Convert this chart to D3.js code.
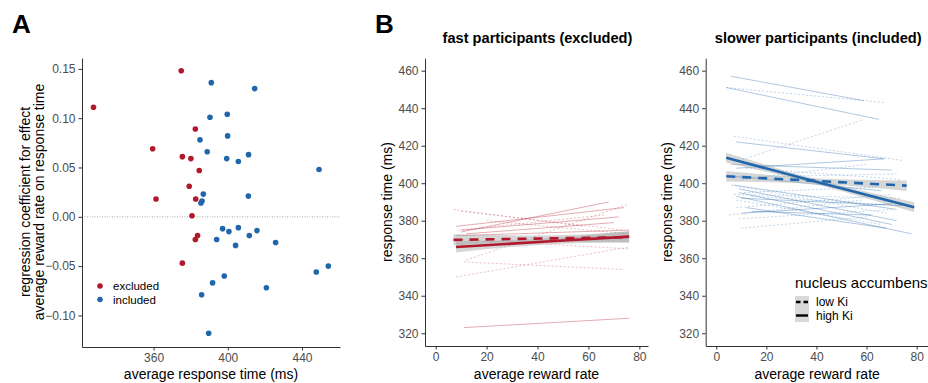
<!DOCTYPE html>
<html>
<head>
<meta charset="utf-8">
<title>Reward rate and response time</title>
<script src="https://cdn.jsdelivr.net/npm/d3@7"></script>
<style>
body { margin: 0; background: #fff; font-family: 'Liberation Sans', Arial, sans-serif; }
.tick text { fill: #4d4d4d; font-size: 12px; }
.axis path, .axis line { stroke: #333; }
.atitle { font-size: 14px; fill: #000; }
.ptitle { font-size: 14.6px; font-weight: bold; fill: #000; }
.letter { font-size: 26px; font-weight: bold; fill: #000; }
</style>
</head>
<body>
<script>
var red = "#b2182b", blue = "#2166ac";

// panel A: average RT vs. regression coefficient
var excludedRT   = [327.6, 374.9, 382.5, 359.5, 375.5, 380.1, 384.6, 379.2, 361.3, 382.7, 380.7, 383.7, 382.5, 375.5];
var excludedCoef = [0.111, 0.148, 0.089, 0.069, 0.061, 0.059, 0.047, 0.031, 0.018, 0.018, 0.001, -0.019, -0.023, -0.047];
var includedRT   = [391.1, 414.5, 390.4, 399.7, 399.9, 385.0, 388.9, 399.4, 411.2, 405.7, 449.2, 386.8, 386.1, 385.5, 411.1,
                    397.2, 400.6, 405.7, 415.7, 394.0, 411.6, 404.2, 425.8, 447.7, 454.2, 398.1, 391.8, 420.8, 385.9, 389.7];
var includedCoef = [0.136, 0.130, 0.101, 0.104, 0.082, 0.078, 0.066, 0.059, 0.063, 0.056, 0.048, 0.023, 0.016, 0.014, 0.021,
                    -0.012, -0.015, -0.011, -0.014, -0.023, -0.019, -0.029, -0.026, -0.056, -0.050, -0.060, -0.067, -0.072, -0.079, -0.118];
var ticksA_x = [360, 400, 440];
var ticksA_y = [-0.10, -0.05, 0.00, 0.05, 0.10, 0.15];

// panel B: per-participant fits [x1, y1, x2, y2, Ki group]
var fastLines = [
  [10, 374, 68, 390, "high"], [8, 377, 74, 387, "high"], [10, 375, 72, 382, "high"],
  [12, 373, 70, 379, "high"], [8, 372, 76, 375, "high"], [11, 323, 76, 328, "high"],
  [7, 386, 58, 377, "low"], [10, 385, 74, 375, "low"], [12, 359, 76, 389, "low"],
  [8, 350, 76, 366, "low"], [11, 358, 74, 354, "low"], [9, 370, 76, 365, "low"],
  [20, 380, 76, 373, "low"], [9, 375, 66, 383, "low"]
];
var slowLines = [
  [6, 457, 59, 444, "high"], [4, 451, 65, 434, "high"], [8, 422, 67, 413, "high"],
  [8, 408, 67, 413, "high"], [9, 395, 70, 378, "high"], [8, 393, 78, 373, "high"],
  [10, 384, 70, 389, "high"], [7, 399, 72, 386, "high"], [12, 387, 68, 376, "high"],
  [6, 410, 70, 407, "high"], [10, 392, 74, 388, "high"], [14, 385, 62, 383, "high"],
  [5, 404, 66, 396, "high"], [9, 397, 72, 380, "high"],
  [4, 451, 67, 443, "low"], [7, 425, 75, 412, "low"], [9, 412, 59, 434, "low"],
  [10, 376, 60, 382, "low"], [7, 394, 74, 392, "low"], [9, 381, 70, 386, "low"],
  [8, 391, 66, 378, "low"], [6, 403, 72, 405, "low"], [11, 395, 64, 398, "low"],
  [5, 383, 58, 391, "low"], [8, 387, 70, 394, "low"], [12, 408, 74, 402, "low"],
  [6, 399, 68, 384, "low"], [10, 402, 60, 410, "low"], [14, 393, 76, 388, "low"]
];
// group fits: [x, fit, half-width of band] at start, middle, end
var fastLow  = [[7, 369.8, 3], [41.5, 370.5, 1.6], [76, 371.2, 3]];
var fastHigh = [[8, 366.0, 3], [42, 368.8, 1.6], [76, 371.5, 3]];
var slowLow  = [[4, 403.7, 2.8], [40, 401.2, 1.5], [76, 398.7, 2.8]];
var slowHigh = [[4, 413.6, 2.6], [41, 400.4, 1.3], [79, 387.2, 2.6]];
var ticksB_x = [0, 20, 40, 60, 80];
var ticksB_y = [320, 340, 360, 380, 400, 420, 440, 460];

var svg = d3.select("body").append("svg").attr("width", 928).attr("height", 383);

//########## PANEL A ##########
var xA = d3.scaleLinear().domain([321.4, 460.5]).range([82, 340]);
var yA = d3.scaleLinear().domain([-0.132, 0.161]).range([347, 58]);

svg.append("line").attr("x1", 82).attr("x2", 340).attr("y1", yA(0)).attr("y2", yA(0))
  .attr("stroke", "#999").attr("stroke-width", 0.8).attr("stroke-dasharray", "1,1.5");

svg.append("g").attr("class", "axis").attr("transform", "translate(0,347)")
  .call(d3.axisBottom(xA).tickValues(ticksA_x).tickSize(3.5).tickPadding(3).tickSizeOuter(0));
svg.append("g").attr("class", "axis").attr("transform", "translate(82,0)")
  .call(d3.axisLeft(yA).tickValues(ticksA_y).tickSize(3.5).tickPadding(3).tickSizeOuter(0)
    .tickFormat(d3.format(".2f")));

svg.append("g").selectAll("circle").data(d3.range(excludedRT.length)).enter().append("circle")
  .attr("cx", function(i){ return xA(excludedRT[i]); })
  .attr("cy", function(i){ return yA(excludedCoef[i]); })
  .attr("r", 2.8).attr("fill", red);
svg.append("g").selectAll("circle").data(d3.range(includedRT.length)).enter().append("circle")
  .attr("cx", function(i){ return xA(includedRT[i]); })
  .attr("cy", function(i){ return yA(includedCoef[i]); })
  .attr("r", 2.8).attr("fill", blue);

// legend A
svg.append("circle").attr("cx", 100).attr("cy", 286).attr("r", 2.8).attr("fill", red);
svg.append("circle").attr("cx", 100).attr("cy", 299.5).attr("r", 2.8).attr("fill", blue);
svg.append("text").attr("x", 113).attr("y", 290).text("excluded").style("font-size", "11.5px");
svg.append("text").attr("x", 113).attr("y", 303.5).text("included").style("font-size", "11.5px");

svg.append("text").attr("class", "atitle").attr("x", 211).attr("y", 379).attr("text-anchor", "middle")
  .text("average response time (ms)");
svg.append("text").attr("class", "atitle").attr("text-anchor", "middle")
  .attr("transform", "translate(30,202) rotate(-90)").text("regression coefficient for effect");
svg.append("text").attr("class", "atitle").attr("text-anchor", "middle")
  .attr("transform", "translate(44,202) rotate(-90)").text("average reward rate on response time");

svg.append("text").attr("class", "letter").attr("x", 12).attr("y", 33).text("A");

//########## PANEL B ##########
var yB = d3.scaleLinear().domain([313.2, 466.6]).range([346, 58.3]);

function drawPanel(x0, x1, domain, lines, low, high, col, title, ticky) {
  var x = d3.scaleLinear().domain(domain).range([x0, x1]);
  var g = svg.append("g");

  g.append("g").attr("class", "axis").attr("transform", "translate(0,346)")
    .call(d3.axisBottom(x).tickValues(ticksB_x).tickSize(3.5).tickPadding(3).tickSizeOuter(0));
  g.append("g").attr("class", "axis").attr("transform", "translate(" + x0 + ",0)")
    .call(d3.axisLeft(yB).tickValues(ticksB_y).tickSize(3.5).tickPadding(3).tickSizeOuter(0));

  g.append("g").selectAll("line").data(lines).enter().append("line")
    .attr("x1", function(d){ return x(d[0]); }).attr("y1", function(d){ return yB(d[1]); })
    .attr("x2", function(d){ return x(d[2]); }).attr("y2", function(d){ return yB(d[3]); })
    .attr("stroke", col).attr("stroke-opacity", function(d){ return d[4] == "low" ? 0.35 : 0.45; })
    .attr("stroke-width", 0.8)
    .attr("stroke-dasharray", function(d){ return d[4] == "low" ? "2,2" : null; });

  var band = d3.area().curve(d3.curveMonotoneX)
    .x(function(d){ return x(d[0]); })
    .y0(function(d){ return yB(d[1] - d[2]); })
    .y1(function(d){ return yB(d[1] + d[2]); });
  var fit = d3.line().curve(d3.curveMonotoneX)
    .x(function(d){ return x(d[0]); }).y(function(d){ return yB(d[1]); });

  [low, high].forEach(function(grp){
    g.append("path").attr("d", band(grp)).attr("fill", "#999").attr("fill-opacity", 0.4);
  });
  g.append("path").attr("d", fit(low)).attr("fill", "none").attr("stroke", col)
    .attr("stroke-width", 2.6).attr("stroke-dasharray", "9,7");
  g.append("path").attr("d", fit(high)).attr("fill", "none").attr("stroke", col)
    .attr("stroke-width", 2.6);

  var mid = (x0 + x1) / 2;
  g.append("text").attr("class", "ptitle").attr("x", mid + 1).attr("y", 43).attr("text-anchor", "middle").text(title);
  g.append("text").attr("class", "atitle").attr("x", mid).attr("y", 379).attr("text-anchor", "middle")
    .text("average reward rate");
  g.append("text").attr("class", "atitle").attr("text-anchor", "middle")
    .attr("transform", "translate(" + ticky + ",202) rotate(-90)").text("response time (ms)");
  return g;
}

drawPanel(425, 648, [-4.2, 83.4], fastLines, fastLow, fastHigh, red, "fast participants (excluded)", 392);
drawPanel(705.7, 928.7, [-4.2, 84.8], slowLines, slowLow, slowHigh, blue, "slower participants (included)", 672);

// legend B
var leg = svg.append("g");
leg.append("text").attr("x", 795).attr("y", 288).text("nucleus accumbens").style("font-size", "15px");
leg.append("rect").attr("x", 795).attr("y", 296).attr("width", 14).attr("height", 26).attr("fill", "#d9d9d9");
leg.append("line").attr("x1", 796).attr("x2", 808).attr("y1", 302).attr("y2", 302)
  .attr("stroke", "#000").attr("stroke-width", 2.4).attr("stroke-dasharray", "4.5,3");
leg.append("line").attr("x1", 796).attr("x2", 808).attr("y1", 315.5).attr("y2", 315.5)
  .attr("stroke", "#000").attr("stroke-width", 2.4);
leg.append("text").attr("x", 816).attr("y", 306).text("low Ki").style("font-size", "12px");
leg.append("text").attr("x", 816).attr("y", 319.5).text("high Ki").style("font-size", "12px");

svg.append("text").attr("class", "letter").attr("x", 375).attr("y", 33).text("B");
</script>
</body>
</html>
